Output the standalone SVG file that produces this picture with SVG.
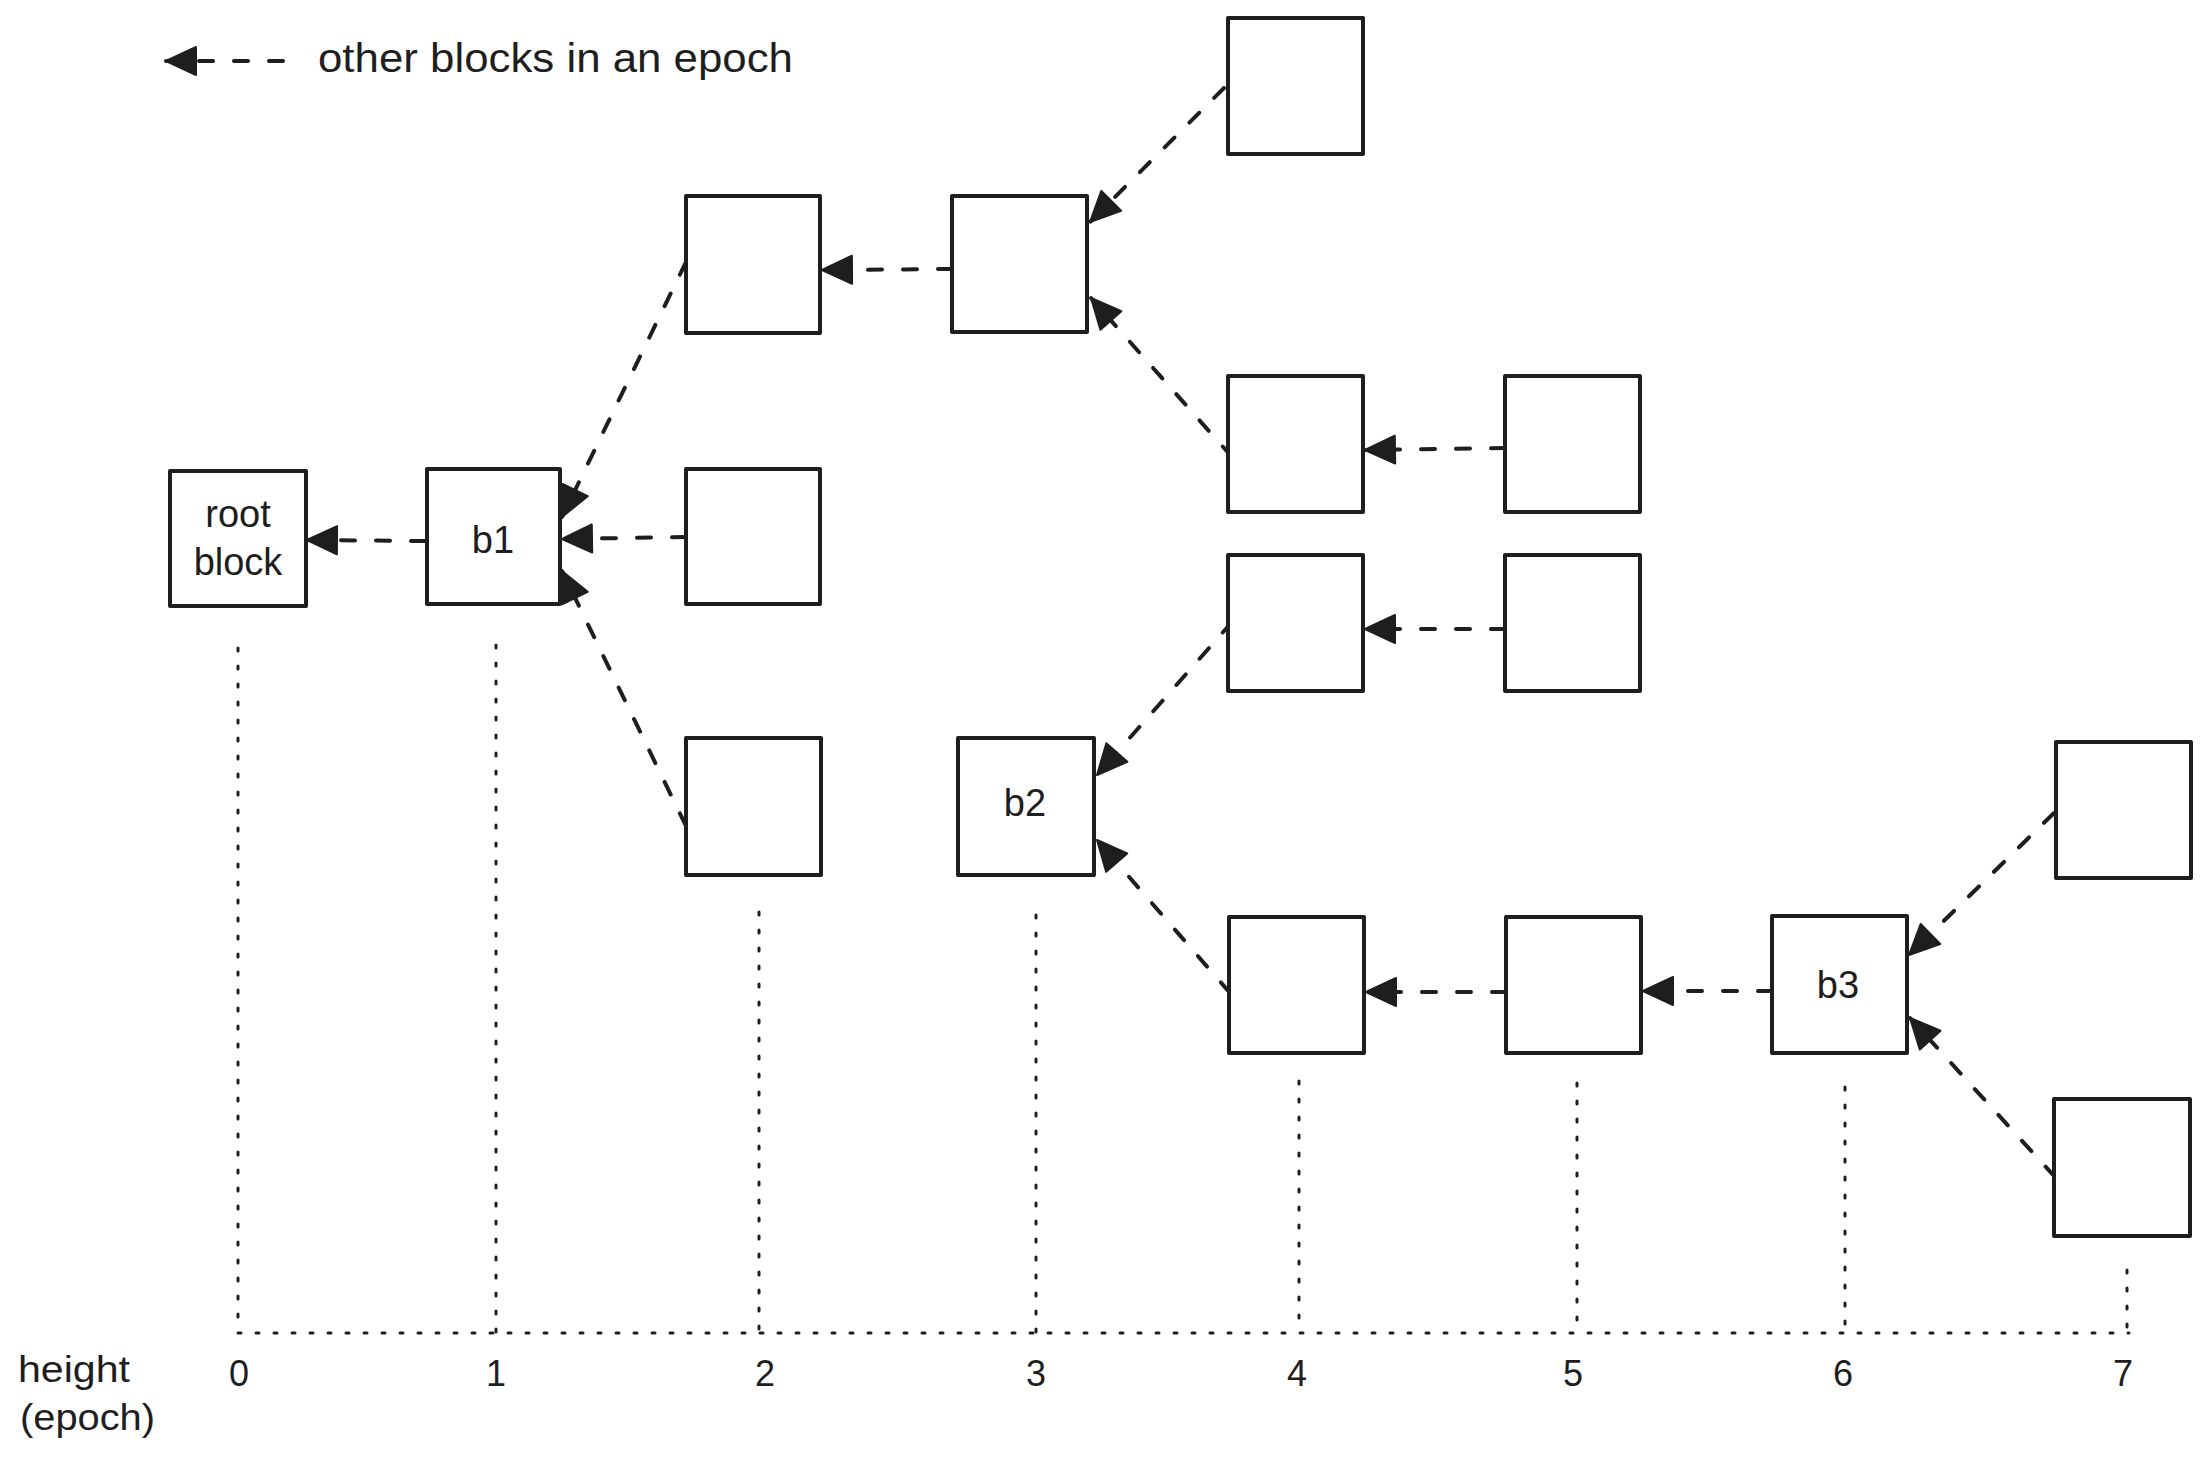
<svg xmlns="http://www.w3.org/2000/svg" width="2208" height="1468" viewBox="0 0 2208 1468">
<style>
.box{fill:#fff;stroke:#1e1e1e;stroke-width:4;stroke-linejoin:round}
.arr{fill:none;stroke:#1e1e1e;stroke-width:4;stroke-dasharray:14 21;stroke-linecap:round;marker-end:url(#head)}
.dot{fill:none;stroke:#1e1e1e;stroke-width:3;stroke-dasharray:3 15;stroke-linecap:round}
.lbl{font-family:"Liberation Sans",Arial,sans-serif;font-size:38px;fill:#1e1e1e;text-anchor:middle}
.ax{font-family:"Liberation Sans",Arial,sans-serif;font-size:36px;fill:#1e1e1e}
.num{text-anchor:middle}
</style>
<defs>
<marker id="head" markerUnits="userSpaceOnUse" markerWidth="34" markerHeight="34" viewBox="0 0 34 34" refX="32" refY="17" orient="auto">
<path d="M2,3 L32,17 L2,31 Z" fill="#1e1e1e" stroke="#1e1e1e" stroke-width="2" stroke-linejoin="round"/>
</marker>
</defs>
<rect width="2208" height="1468" fill="#fff"/>

<g id="axis">
<line class="dot" x1="238" y1="648" x2="238" y2="1332"/>
<line class="dot" x1="496" y1="645" x2="496" y2="1332"/>
<line class="dot" x1="759" y1="912" x2="759" y2="1332"/>
<line class="dot" x1="1036" y1="915" x2="1036" y2="1332"/>
<line class="dot" x1="1299" y1="1081" x2="1299" y2="1332"/>
<line class="dot" x1="1577" y1="1083" x2="1577" y2="1332"/>
<line class="dot" x1="1845" y1="1087" x2="1845" y2="1332"/>
<line class="dot" x1="2127" y1="1270" x2="2127" y2="1332"/>
<line class="dot" x1="238" y1="1333" x2="2129" y2="1333"/>
<text class="ax" x="18" y="1382" textLength="112" lengthAdjust="spacingAndGlyphs">height</text>
<text class="ax" x="20" y="1430" textLength="135" lengthAdjust="spacingAndGlyphs">(epoch)</text>
<text class="ax num" x="239" y="1386">0</text>
<text class="ax num" x="496" y="1386">1</text>
<text class="ax num" x="765" y="1386">2</text>
<text class="ax num" x="1036" y="1386">3</text>
<text class="ax num" x="1297" y="1386">4</text>
<text class="ax num" x="1573" y="1386">5</text>
<text class="ax num" x="1843" y="1386">6</text>
<text class="ax num" x="2123" y="1386">7</text>
</g>

<g id="legend">
<line class="arr" x1="283" y1="61" x2="166" y2="61"/>
<text x="318" y="72" textLength="475" lengthAdjust="spacingAndGlyphs" style="font-family:'Liberation Sans',Arial,sans-serif;font-size:40px;fill:#1e1e1e">other blocks in an epoch</text>
</g>

<g id="connectors">
<line class="arr" x1="425" y1="541" x2="307" y2="540"/>
<line class="arr" x1="686" y1="537" x2="562" y2="539"/>
<line class="arr" x1="686" y1="262" x2="562" y2="517"/>
<line class="arr" x1="686" y1="826" x2="562" y2="571"/>
<line class="arr" x1="952" y1="269" x2="822" y2="270"/>
<line class="arr" x1="1224" y1="88" x2="1090" y2="222"/>
<line class="arr" x1="1232" y1="457" x2="1091" y2="298"/>
<line class="arr" x1="1505" y1="448" x2="1365" y2="450"/>
<line class="arr" x1="1505" y1="629" x2="1365" y2="629"/>
<line class="arr" x1="1232" y1="622" x2="1097" y2="775"/>
<line class="arr" x1="1230" y1="993" x2="1097" y2="840"/>
<line class="arr" x1="1506" y1="992" x2="1366" y2="992"/>
<line class="arr" x1="1772" y1="991" x2="1643" y2="991"/>
<line class="arr" x1="2054" y1="813" x2="1909" y2="955"/>
<line class="arr" x1="2055" y1="1177" x2="1910" y2="1018"/>
</g>

<g id="root"><rect class="box" x="170" y="471" width="136" height="135"/><text class="lbl" x="238" y="527">root</text><text class="lbl" x="238" y="575">block</text></g>
<g id="b1"><rect class="box" x="427" y="469" width="133" height="135"/><text class="lbl" x="493" y="553">b1</text></g>
<g id="n2a"><rect class="box" x="686" y="196" width="134" height="137"/></g>
<g id="n2b"><rect class="box" x="686" y="469" width="134" height="135"/></g>
<g id="n2c"><rect class="box" x="686" y="738" width="135" height="137"/></g>
<g id="n3a"><rect class="box" x="952" y="196" width="135" height="136"/></g>
<g id="b2"><rect class="box" x="958" y="738" width="136" height="137"/><text class="lbl" x="1025" y="816">b2</text></g>
<g id="n4a"><rect class="box" x="1228" y="18" width="135" height="136"/></g>
<g id="n4b"><rect class="box" x="1228" y="376" width="135" height="136"/></g>
<g id="n4c"><rect class="box" x="1228" y="555" width="135" height="136"/></g>
<g id="n4d"><rect class="box" x="1229" y="917" width="135" height="136"/></g>
<g id="n5a"><rect class="box" x="1505" y="376" width="135" height="136"/></g>
<g id="n5b"><rect class="box" x="1505" y="555" width="135" height="136"/></g>
<g id="n5d"><rect class="box" x="1506" y="917" width="135" height="136"/></g>
<g id="b3"><rect class="box" x="1772" y="916" width="135" height="137"/><text class="lbl" x="1838" y="998">b3</text></g>
<g id="n7a"><rect class="box" x="2056" y="742" width="135" height="136"/></g>
<g id="n7b"><rect class="box" x="2054" y="1099" width="136" height="137"/></g>
</svg>
